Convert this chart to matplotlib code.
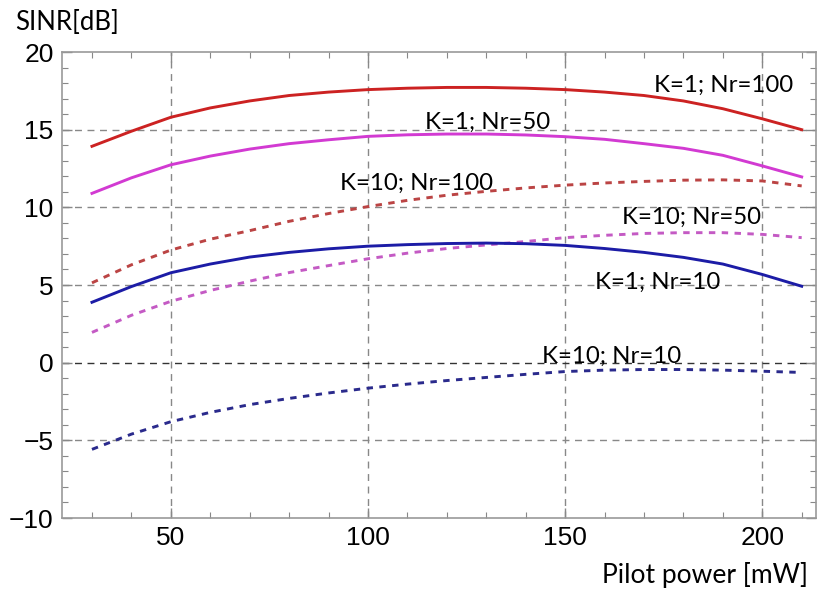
import matplotlib
matplotlib.use("Agg")
import matplotlib.pyplot as plt
from matplotlib.ticker import MultipleLocator

plt.rcParams["font.family"] = ["Liberation Sans", "DejaVu Sans"]

# pilot power [mW]
power = [30, 40, 50, 60, 70, 80, 90, 100, 110, 120, 130, 140, 150, 160, 170, 180, 190, 200, 210]

# SINR [dB]
k1_nr100 = [13.93, 14.9, 15.8, 16.4, 16.85, 17.2, 17.42, 17.58, 17.67, 17.72, 17.72, 17.67, 17.58, 17.42, 17.2, 16.85, 16.35, 15.7, 15.0]
k1_nr50 = [10.9, 11.9, 12.74, 13.3, 13.75, 14.1, 14.35, 14.57, 14.67, 14.72, 14.72, 14.66, 14.55, 14.38, 14.1, 13.8, 13.35, 12.67, 11.96]
k10_nr100 = [5.14, 6.3, 7.25, 7.95, 8.5, 9.1, 9.6, 10.05, 10.45, 10.78, 11.03, 11.25, 11.43, 11.57, 11.67, 11.75, 11.77, 11.7, 11.38]
k10_nr50 = [1.95, 3.05, 3.95, 4.65, 5.25, 5.8, 6.25, 6.69, 7.05, 7.35, 7.58, 7.8, 8.05, 8.2, 8.32, 8.37, 8.37, 8.26, 8.05]
k1_nr10 = [3.89, 4.9, 5.79, 6.35, 6.8, 7.1, 7.33, 7.5, 7.6, 7.67, 7.7, 7.66, 7.55, 7.35, 7.1, 6.78, 6.35, 5.68, 4.92]
k10_nr10 = [-5.58, -4.6, -3.8, -3.2, -2.7, -2.3, -1.95, -1.64, -1.38, -1.15, -0.95, -0.75, -0.57, -0.48, -0.44, -0.44, -0.48, -0.55, -0.63]

labels = ["K=1; Nr=100", "K=1; Nr=50", "K=10; Nr=100", "K=10; Nr=50", "K=1; Nr=10", "K=10; Nr=10"]
label_x = [190.3, 130.4, 112.3, 182.1, 173.4, 161.8]
label_y = [17.84, 15.5, 11.56, 9.34, 5.14, 0.4]

fig = plt.figure(figsize=(8.3, 6.02), dpi=100)
ax = fig.add_axes([0.0747, 0.1395, 0.9083, 0.7741])

dash = (0, (2.2, 2.2))
ax.plot(power, k1_nr100, color="#cc2222", lw=2.1, zorder=3)
ax.plot(power, k1_nr50, color="#d23ad2", lw=2.1, zorder=3)
ax.plot(power, k10_nr100, color="#bb4444", lw=2.1, ls=dash, zorder=3)
ax.plot(power, k10_nr50, color="#c45ac4", lw=2.1, ls=dash, zorder=3)
ax.plot(power, k1_nr10, color="#1c1ca6", lw=2.1, zorder=3)
ax.plot(power, k10_nr10, color="#2a2a8c", lw=2.1, ls=dash, zorder=3)

for txt, tx, ty in zip(labels, label_x, label_y):
    ax.text(tx, ty, txt, ha="center", va="center", fontsize=17.3, family="Lato", zorder=4)

ax.set_xlim(22.4, 213.6)
ax.set_ylim(-10, 20)
ax.xaxis.set_major_locator(MultipleLocator(50))
ax.xaxis.set_minor_locator(MultipleLocator(10))
ax.yaxis.set_major_locator(MultipleLocator(5))
ax.yaxis.set_minor_locator(MultipleLocator(1))
ax.tick_params(which="both", direction="in", top=True, right=True, color="#888888")
ax.tick_params(which="major", length=7, width=1, labelsize=19, pad=6)
ax.tick_params(which="minor", length=4, width=0.8)
ax.tick_params(labeltop=False, labelright=False)
for s in ax.spines.values():
    s.set_color("#999999")
    s.set_linewidth(1.2)

for gx in [50, 100, 150, 200]:
    ax.axvline(gx, color="#888888", lw=1.0, ls=(0, (5, 4)), zorder=1)
for gy in [-5, 5, 10, 15]:
    ax.axhline(gy, color="#888888", lw=1.0, ls=(0, (5, 4)), zorder=1)
ax.axhline(0, color="#333333", lw=1.0, ls=(0, (5, 4)), zorder=1)

fig.text(0.018, 0.963, "SINR[dB]", fontsize=18.5, family="Lato", va="center", ha="left")
fig.text(0.974, 0.045, "Pilot power [mW]", fontsize=19, family="Lato", va="center", ha="right")

fig.savefig("out.png", dpi=100)
